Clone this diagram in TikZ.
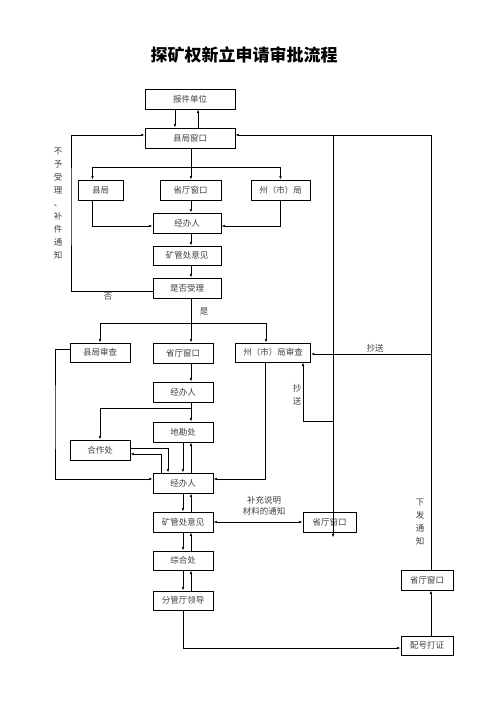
\documentclass[tikz,border=0pt]{standalone}
\usepackage{fontspec}
\setmainfont{Noto Sans CJK SC}
\usetikzlibrary{arrows.meta}

\begin{document}
\begin{tikzpicture}[x=1pt, y=-1pt,
    box/.style={draw, line width=0.9pt, minimum height=20pt, inner sep=1pt,
        font=\fontsize{8.5}{10}\selectfont, text=black!75},
    arr/.style={line width=0.8pt, -{Latex[length=3.5pt,width=2.6pt]}},
    arrs/.style={line width=0.8pt, {Latex[length=3.5pt,width=2.6pt]}-{Latex[length=3.5pt,width=2.6pt]}},
    lbl/.style={font=\fontsize{8.5}{10}\selectfont, text=black!75, inner sep=0pt},
    vlbl/.style={font=\fontsize{8.5}{12.9}\selectfont, text=black!75, align=center, inner sep=0pt}]

\useasboundingbox (0,0) rectangle (496,702);

% Title
\node[font=\fontsize{17}{20}\selectfont\bfseries] (biaoti) at (244,55) {探矿权新立申请审批流程};

% Upper part: acceptance
\node[box, minimum width=90pt] (bjdw) at (190,99) {报件单位};
\node[box, minimum width=90pt] (xjck) at (190,138) {县局窗口};
\node[box, minimum width=45pt] (xj) at (100.5,190) {县局};
\node[box, minimum width=61pt] (stck1) at (190.5,190) {省厅窗口};
\node[box, minimum width=59pt] (zsj) at (280.5,190) {州（市）局};
\node[box, minimum width=68pt] (jbr1) at (187,223) {经办人};
\node[box, minimum width=68pt, minimum height=19pt] (kgc1) at (187,255.5) {矿管处意见};
\node[box, minimum width=68pt] (sfsl) at (187,288) {是否受理};

% Lower part: examination
\node[box, minimum width=60pt, minimum height=19pt] (xjsc) at (100,352.5) {县局审查};
\node[box, minimum width=60pt] (stck2) at (183,353) {省厅窗口};
\node[box, minimum width=75pt, minimum height=19pt] (zsjsc) at (273,352.5) {州（市）局审查};
\node[box, minimum width=60pt] (jbr2) at (183,392) {经办人};
\node[box, minimum width=60pt] (dkc) at (183,432) {地勘处};
\node[box, minimum width=60pt] (hzc) at (100,450) {合作处};
\node[box, minimum width=60pt] (jbr3) at (183,483) {经办人};
\node[box, minimum width=60pt] (kgc2) at (183,522) {矿管处意见};
\node[box, minimum width=60pt, minimum height=19pt] (zhc) at (183,560.5) {综合处};
\node[box, minimum width=60pt, minimum height=19pt] (fgtld) at (183,600.5) {分管厅领导};
\node[box, minimum width=53pt] (stck3) at (329.5,522) {省厅窗口};
\node[box, minimum width=52pt] (stck4) at (427,580) {省厅窗口};
\node[box, minimum width=52pt, minimum height=19pt] (phdz) at (427,645.5) {配号打证};

% helper points
\coordinate (fen1) at (191,167);
\coordinate (fen2) at (191,323);
\coordinate (fen3) at (191,408);
\coordinate (zuo1) at (71,200);
\coordinate (zuo2) at (55,420);
\coordinate (ding) at (333,135);
\coordinate (chao1) at (431,354);
\coordinate (chao2) at (333,421);

% between 报件单位 and 县局窗口
\draw[arr] ([xshift=-15]bjdw.south) -- ([xshift=-15]xjck.north);
\draw[arr] ([xshift=8]xjck.north) -- ([xshift=8]bjdw.south);

% 县局窗口 to the three offices
\draw[line width=0.8pt] (xjck.south -| fen1) -- (fen1);
\draw[arr] (fen1) -| ([xshift=-8]xj.north);
\draw[arr] (fen1) -- (stck1.north -| fen1);
\draw[arr] (fen1) -| (zsj.north);

% the three offices to 经办人
\draw[arr] ([xshift=-8]xj.south) |- ([yshift=-3]jbr1.west);
\draw[arr] (stck1.south -| fen1) -- (jbr1.north -| fen1);
\draw[arr] (zsj.south) |- ([yshift=-3]jbr1.east);
\draw[arr] (jbr1.south -| fen1) -- (kgc1.north -| fen1);
\draw[arr] (kgc1.south -| fen1) -- (sfsl.north -| fen1);

% not accepted
\draw[arr] ([yshift=-3]sfsl.west) -| (zuo1) |- ([yshift=3]xjck.west);
\node[lbl] (fou) at (108,297) {否};
\node[vlbl] (buyu) at (58,203.5) {不\\予\\受\\理\\、\\补\\件\\通\\知};

% accepted
\draw[line width=0.8pt] (sfsl.south -| fen2) -- (fen2);
\node[lbl] (shi) at (204,311) {是};
\draw[arr] (fen2) -| (xjsc.north);
\draw[arr] (fen2) -- (stck2.north -| fen2);
\draw[arr] (fen2) -| ([xshift=-7]zsjsc.north);

% 省厅窗口 branch
\draw[arr] (stck2.south -| fen2) -- (jbr2.north -| fen2);
\draw[line width=0.8pt] (jbr2.south -| fen3) -- (fen3);
\draw[arr] (fen3) -- (dkc.north -| fen3);
\draw[arr] (fen3) -| (hzc.north);
\draw[arr] (dkc.south) -- (jbr3.north);
\draw[arr] (jbr3.north -| fen3) -- (dkc.south -| fen3);
\draw[arr] ([yshift=2]hzc.east) -| ([xshift=-15]jbr3.north);
\draw[arr] ([xshift=-22]jbr3.north) |- ([yshift=-4]hzc.east);

% 县局审查 and 州（市）局审查 to 经办人
\draw[arr] ([yshift=3.5]xjsc.west) -| (zuo2) |- ([yshift=4]jbr3.west);
\draw[arr] ([xshift=-8]zsjsc.south) |- ([yshift=4]jbr3.east);

% down the chain and back
\draw[arr] (jbr3.south) -- (kgc2.north);
\draw[arr] (kgc2.north -| fen3) -- (jbr3.south -| fen3);
\draw[arr] (kgc2.south) -- (zhc.north);
\draw[arr] (zhc.north -| fen3) -- (kgc2.south -| fen3);
\draw[arr] (zhc.south) -- (fgtld.north);
\draw[arr] (fgtld.north -| fen3) -- (zhc.south -| fen3);

% supplementary materials
\draw[arrs] (kgc2.east) -- (stck3.west);
\node[lbl, align=center, font=\fontsize{8.5}{11}\selectfont] (buchong) at (264,505.5) {补充说明\\材料的通知};

% certificate and notice
\draw[arr] (fgtld.south) |- ([yshift=-2.5]phdz.west);
\draw[arr] ([xshift=4]phdz.north) -- ([xshift=4]stck4.south);
\draw[arr] ([xshift=4]stck4.north) |- ([yshift=3]xjck.east);
\node[vlbl, font=\fontsize{8.5}{13}\selectfont] (xiafa) at (420,522.5) {下\\发\\通\\知};

% copies to 州（市）局审查
\draw[arr] (ding) -- ([yshift=-5]stck3.south -| ding);
\draw[arr] (chao1) -- (chao1 -| zsjsc.east);
\node[lbl] (chaosong1) at (375,348) {抄送};
\draw[arr] (chao2) -| ([xshift=30]zsjsc.south);
\node[vlbl] (chaosong2) at (297,394.5) {抄\\送};

\end{tikzpicture}
\end{document}
